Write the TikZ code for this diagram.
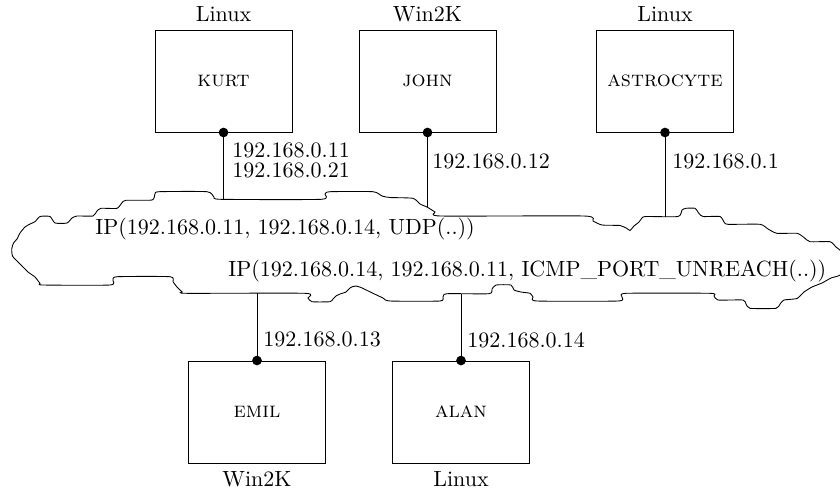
\documentclass[tikz,border=0pt]{standalone}
\tikzset{
  host/.style   = { rectangle, draw, minimum width=62.3pt, minimum height=46.4pt, font=\scshape },
  addr/.style   = { anchor=north west, inner sep=0pt, align=left },
  packet/.style = { anchor=base west, inner sep=0pt },
  port/.style   = { fill=black },
}

\begin{document}
\begin{tikzpicture}[x=0.4545pt,y=-0.4545pt,thin]
  \useasboundingbox (0,0) rectangle (840,488);

  \node (kurt)  [host,label=above:Linux] at (223.5,81) {kurt};
  \node (john)  [host,label=above:Win2K] at (427.5,81) {john};
  \node (astro) [host,label=above:Linux] at (665,81)   {astrocyte};
  \node (emil)  [host,label=below:Win2K] at (257,412)  {emil};
  \node (alan)  [host,label=below:Linux] at (461,412)  {alan};

  % the network cloud
  \draw plot [smooth cycle, tension=0.35] coordinates {
    (35,221.7) (40,216.5) (50,216.5) (55,223) (67,223) (72,218) (77,216)
    (93,216) (97,211) (101,208.3) (117,208.3) (122,202.7) (126,200.3)
    (152,200) (155,194) (159,191.7) (207,191.7) (214,197) (221,199.3)
    (321,199.3) (325,194) (330,191.7) (373,191.7) (382,196) (390,197.5)
    (413,198.3) (420,204) (427,207) (435,212) (441,216) (584,216)
    (593,221) (602,225) (620,225.5) (627,228.5) (630,230.5) (634,226)
    (639,222) (642,218) (646,216.5) (678,216.5) (682,210) (686,208.3)
    (695,208.3) (699,213.5) (703,216.5) (720,216.5) (724,222) (728,224.3)
    (760,224.3) (768,229) (777,233.3) (797,233.3) (804,237.5) (810,241.7)
    (830,241.7) (836,247) (842,252) (848,262) (845,272) (838,276)
    (831,278) (822,283) (812,287) (804,292) (797,298.5) (784,300)
    (780,304) (776,308.3) (750,308.3) (746,304) (743,300) (718,300)
    (714,296) (710,293.3) (626,293.3) (622,297) (618,301) (537,301)
    (533,297) (530,293.3) (521,292) (514,290) (511,285) (496,285)
    (492,289) (489,293.7) (447,293.7) (443,297) (440,301) (390,301)
    (383,298) (373,293.3) (361,287.5) (356,286) (353,286.5) (350,288)
    (346,292) (340,294) (336,296) (333,299) (330,301.7) (312,301.7)
    (308,298) (305,293.3) (187,293.3) (182,291.7) (177,287) (173,281.7)
    (170,276.7) (117,276.7) (113,280) (110,285) (43,285) (40,283.3)
    (35,277) (28,272) (22,266) (17,261) (12.5,256) (11.7,249)
    (13.5,243) (17,239) (20,233) (25,227) (30,224)
  };

  \node (udp)  [packet] at (95,234)  {IP(192.168.0.11, 192.168.0.14, UDP(..))};
  \node (icmp) [packet] at (228,276) {IP(192.168.0.14, 192.168.0.11, ICMP\_PORT\_UNREACH(..))};

  \coordinate (kurtlan)  at (kurt.south  |- 0,199.3);
  \coordinate (johnlan)  at (john.south  |- 0,207);
  \coordinate (astrolan) at (astro.south |- 0,216.5);
  \coordinate (emillan)  at (emil.north  |- 0,293.3);
  \coordinate (alanlan)  at (alan.north  |- 0,293.7);

  \draw (kurt.south)  -- (kurtlan);
  \draw (john.south)  -- (johnlan);
  \draw (astro.south) -- (astrolan);
  \draw (emil.north)  -- (emillan);
  \draw (alan.north)  -- (alanlan);

  \fill [port] (kurt.south)  circle (2.2pt);
  \fill [port] (john.south)  circle (2.2pt);
  \fill [port] (astro.south) circle (2.2pt);
  \fill [port] (emil.north)  circle (2.2pt);
  \fill [port] (alan.north)  circle (2.2pt);

  \node (kurtip)  [addr] at (232,142)   {192.168.0.11\\[-2.9pt]192.168.0.21};
  \node (johnip)  [addr] at (432,153)   {192.168.0.12};
  \node (astroip) [addr] at (672,153)   {192.168.0.1};
  \node (emilip)  [addr] at (263,331.7) {192.168.0.13};
  \node (alanip)  [addr] at (467,331.7) {192.168.0.14};
\end{tikzpicture}
\end{document}
